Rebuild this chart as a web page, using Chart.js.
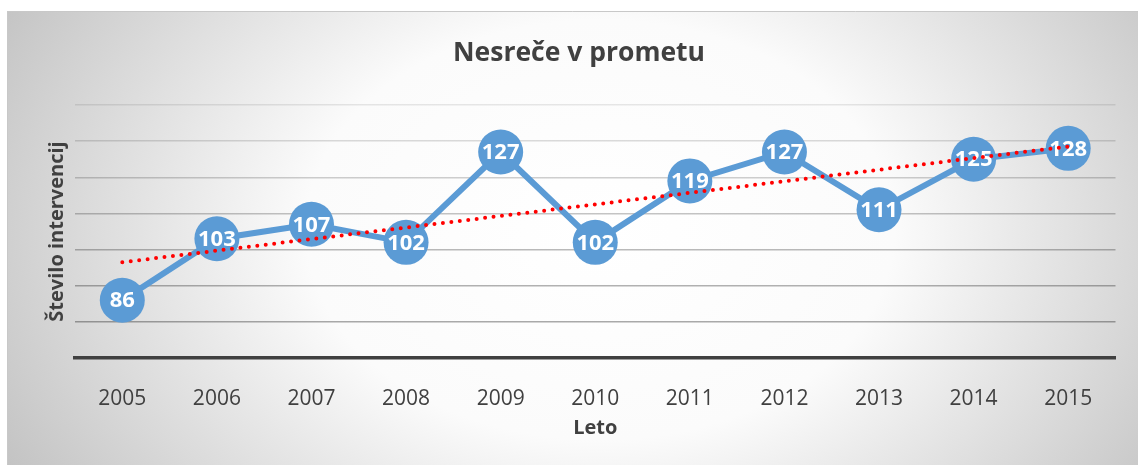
<!DOCTYPE html>
<html>
<head>
<meta charset="utf-8">
<script src="https://cdn.jsdelivr.net/npm/chart.js@4"></script>
<style>
  html, body { margin: 0; padding: 0; background: #ffffff; }
  canvas { display: block; }
</style>
</head>
<body>
<canvas id="c" width="1138" height="465"></canvas>
<script>
// ---- data ----
const years = ['2005','2006','2007','2008','2009','2010','2011','2012','2013','2014','2015'];
const interventions = [86, 103, 107, 102, 127, 102, 119, 127, 111, 125, 128];
// linear trend line endpoints
const trend = [96.5, null, null, null, null, null, null, null, null, null, 128.5];
const chartTitle = 'Nesreče v prometu';
const yTitle = 'Število intervencij';
const xTitle = 'Leto';

const FONT = '"Open Sans", "Liberation Sans", sans-serif';
const TEXT = '#404040';
const BLUE = '#5b9bd5';

const bgPlugin = {
  id: 'bg',
  beforeDraw(chart) {
    const ctx = chart.ctx;
    ctx.save();
    ctx.fillStyle = '#ffffff';
    ctx.fillRect(0, 0, chart.width, chart.height);
    const bx = 7, by = 11, bw = chart.width - bx, bh = chart.height - by;
    const cx = 600, cy = 230, rx = 700, ry = 500;
    ctx.save();
    ctx.beginPath();
    ctx.rect(bx, by, bw, bh);
    ctx.clip();
    ctx.translate(cx, cy);
    ctx.scale(rx / ry, 1);
    const g = ctx.createRadialGradient(0, 0, 0, 0, 0, ry);
    g.addColorStop(0, '#ffffff');
    g.addColorStop(0.42, '#fbfbfb');
    g.addColorStop(1, '#c0c0c0');
    ctx.fillStyle = g;
    ctx.fillRect(-cx * ry / rx - 10, -cy - 10, chart.width * ry / rx + 20, chart.height + 20);
    ctx.restore();
    ctx.strokeStyle = '#c8c8c8';
    ctx.lineWidth = 1;
    ctx.beginPath();
    ctx.moveTo(bx + 0.5, chart.height);
    ctx.lineTo(bx + 0.5, by + 0.5);
    ctx.lineTo(chart.width, by + 0.5);
    ctx.stroke();
    ctx.restore();
  }
};

// shift the title block slightly right, as in the reference
const titleShift = {
  id: 'titleShift',
  afterLayout(chart) {
    const t = chart.titleBlock;
    if (t) { t.left += 20; t.right += 20; }
  }
};

const labelPlugin = {
  id: 'pointLabels',
  afterDatasetDraw(chart, args) {
    if (args.index !== 0) return;
    const ctx = chart.ctx;
    const meta = args.meta;
    const data = chart.data.datasets[0].data;
    ctx.save();
    ctx.fillStyle = '#ffffff';
    ctx.font = 'bold 22px ' + FONT;
    ctx.textAlign = 'center';
    ctx.textBaseline = 'middle';
    meta.data.forEach((el, i) => {
      ctx.fillText(String(data[i]), el.x, el.y + 1);
    });
    ctx.restore();
  }
};

const gridAlpha = {140: 0.09, 130: 0.14, 120: 0.19, 110: 0.23, 100: 0.27, 90: 0.30, 80: 0.33, 70: 0.35};

new Chart(document.getElementById('c'), {
  type: 'line',
  data: {
    labels: years,
    datasets: [
      {
        label: 'Nesreče',
        data: interventions,
        borderColor: BLUE,
        backgroundColor: BLUE,
        borderWidth: 6,
        pointRadius: 22.5,
        pointBorderWidth: 0,
        pointBackgroundColor: BLUE,
        tension: 0,
        order: 1,
        clip: false
      },
      {
        label: 'Trend',
        data: trend,
        spanGaps: true,
        borderColor: '#ff0000',
        borderWidth: 4,
        borderDash: [0, 8.5],
        borderCapStyle: 'round',
        pointRadius: 0,
        fill: false,
        order: 0,
        clip: false
      }
    ]
  },
  options: {
    responsive: false,
    animation: false,
    devicePixelRatio: 1,
    layout: { padding: { left: 0, right: 20, top: 0, bottom: 0 } },
    plugins: {
      legend: { display: false },
      tooltip: { enabled: false },
      title: {
        display: true,
        text: chartTitle,
        color: TEXT,
        font: { family: FONT, size: 26.5, weight: 'bold' },
        padding: { top: 38, bottom: 35.2 }
      }
    },
    scales: {
      x: {
        type: 'category',
        offset: true,
        grid: { display: false },
        border: { display: true, color: TEXT, width: 3.5 },
        ticks: {
          color: TEXT,
          font: { family: FONT, size: 21 },
          padding: 20,
          maxRotation: 0
        },
        title: {
          display: true,
          text: xTitle,
          color: TEXT,
          font: { family: FONT, size: 20, weight: 'bold' },
          padding: { top: 0, bottom: 25 }
        },
        afterFit(scale) { scale.height = 107; }
      },
      y: {
        min: 70,
        max: 140,
        ticks: { display: false, stepSize: 10 },
        border: { display: false },
        grid: {
          drawTicks: false,
          lineWidth: 1.5,
          color: (c) => 'rgba(0,0,0,' + (gridAlpha[c.tick && c.tick.value] ?? 0.2) + ')'
        },
        title: {
          display: true,
          text: yTitle,
          color: TEXT,
          font: { family: FONT, size: 20, weight: 'bold' },
          padding: { top: 45, bottom: 0 }
        },
        afterFit(scale) { scale.width = 75; }
      }
    }
  },
  plugins: [bgPlugin, titleShift, labelPlugin]
});
</script>
</body>
</html>
